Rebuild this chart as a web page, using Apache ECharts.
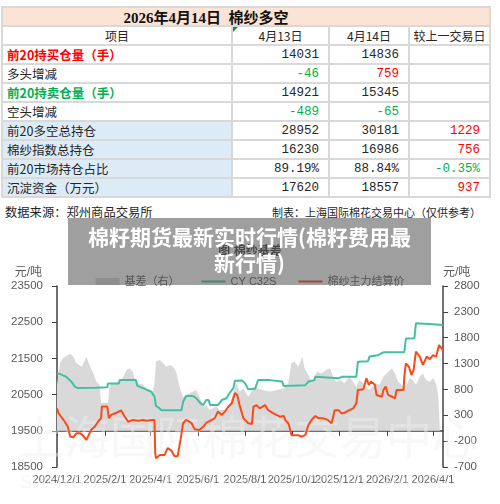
<!DOCTYPE html>
<html><head><meta charset="utf-8">
<script src="https://cdn.jsdelivr.net/npm/echarts@6/dist/echarts.min.js"></script>
<style>
html,body{margin:0;padding:0;background:#fff;}
#page{position:relative;width:500px;height:504px;overflow:hidden;background:#fff;font-family:'Noto Sans CJK SC','Liberation Sans',sans-serif;}
#tbl{position:absolute;left:1px;top:6px;display:grid;grid-template-columns:228px 95px 78px 79px;grid-auto-rows:17px;gap:2px;padding:2px;background:#d9d9d9;}
.c{background:#fff;display:flex;align-items:center;font-size:12.5px;color:#262626;white-space:nowrap;overflow:hidden;position:relative;}
.ttl{grid-column:1/5;background:#fbe4d5;justify-content:center;padding-right:80px;font-family:'Liberation Serif','Noto Sans CJK SC',serif;font-weight:bold;font-size:15px;color:#111;}
.hd{justify-content:center;font-size:12px;}
.lbl{padding-left:4px;}
.blue{background:#ddebf7;}
.num{justify-content:flex-end;padding-right:9px;font-family:'Liberation Mono',monospace;font-size:12.5px;}
.red{color:#ff0000;}
.green{color:#00b050;}
.b{font-weight:bold;}
.tri{position:absolute;left:0;top:0;width:0;height:0;border-top:5px solid #1e8c3a;border-right:5px solid transparent;}
#src{position:absolute;left:5px;top:203px;font-size:12.3px;color:#262626;}
#maker{position:absolute;right:19px;top:204px;font-size:11px;color:#262626;}
#chart{position:absolute;left:0;top:200px;width:500px;height:304px;}
#overlay{position:absolute;left:68px;top:218px;width:363px;height:67px;background:rgba(80,80,80,0.55);color:#fff;font-weight:bold;font-size:21px;line-height:26px;text-align:center;box-sizing:border-box;padding-top:5px;z-index:10;}
</style>
</head><body>
<div id="page">
  <div id="tbl"></div>
  <div id="src"></div>
  <div id="maker"></div>
  <div id="chart"></div>
  <div id="overlay"></div>
</div>
<script>
// ---------- table data ----------
const tableTitle = '2026年4月14日\u00a0\u00a0棉纱多空';
const colHeaders = ['项目', '4月13日', '4月14日', '较上一交易日'];
const rowLabels = ['前20持买仓量（手）', '多头增减', '前20持卖仓量（手）', '空头增减', '前20多空总持仓', '棉纱指数总持仓', '前20市场持仓占比', '沉淀资金（万元）'];
const apr13 = ['14031', '-46', '14921', '-489', '28952', '16230', '89.19%', '17620'];
const apr14 = ['14836', '759', '15345', '-65', '30181', '16986', '88.84%', '18557'];
const change = ['', '', '', '', '1229', '756', '-0.35%', '937'];
const sourceText = '数据来源：郑州商品交易所';
const makerText = '制表：上海国际棉花交易中心（仅供参考）';
const overlayLines = ['棉籽期货最新实时行情(棉籽费用最', '新行情)'];

// ---------- chart data ----------
const chartTitle = '图 棉纱基差';
const xTickDates = ['2024-12-01', '2025-02-01', '2025-04-01', '2025-06-01', '2025-08-01', '2025-10-01', '2025-12-01', '2026-02-01', '2026-04-01'];
const xMin = '2024-12-01';
const xMax = '2026-04-14';
const leftTicks = [18500, 19500, 20500, 21500, 22500, 23500];
const rightTicks = [-700, -200, 300, 800, 1300, 1800, 2300, 2800];

const cyDates = ['2024-12-01','2024-12-06','2024-12-13','2024-12-20','2024-12-24','2024-12-28','2025-01-20','2025-02-04','2025-02-05','2025-02-19','2025-02-20','2025-03-13','2025-03-15','2025-03-25','2025-04-02','2025-04-06','2025-04-08','2025-04-12','2025-04-15','2025-05-11','2025-05-13','2025-05-17','2025-05-26','2025-05-30','2025-06-04','2025-06-08','2025-06-12','2025-06-15','2025-06-17','2025-06-27','2025-07-02','2025-07-08','2025-07-12','2025-07-17','2025-07-19','2025-07-28','2025-08-01','2025-08-05','2025-08-14','2025-08-18','2025-09-02','2025-09-18','2025-09-20','2025-10-18','2025-10-22','2025-10-30','2025-10-31','2025-11-30','2025-12-02','2025-12-04','2025-12-23','2025-12-25','2026-01-07','2026-01-09','2026-01-20','2026-01-26','2026-01-28','2026-01-30','2026-02-23','2026-02-25','2026-03-08','2026-03-10','2026-03-12','2026-03-27','2026-04-14'];
const cyValues = [21090,21060,20990,20850,20720,20680,20690,20700,20810,20810,20900,20900,20740,20650,20580,20440,20190,20130,20070,20070,20300,20460,20460,20400,20270,20210,20350,20350,20210,20210,20350,20400,20540,20680,20880,20890,20820,20650,20660,20900,20900,20860,20740,20760,20860,20900,20990,20950,20920,20990,20990,21410,21420,21550,21590,21660,21620,21670,21670,22050,22060,22470,22490,22450,22420];

const yarnDates = ['2024-12-01','2024-12-02','2024-12-03','2024-12-07','2024-12-11','2024-12-15','2024-12-18','2024-12-22','2024-12-26','2024-12-31','2025-01-04','2025-01-08','2025-01-10','2025-01-14','2025-01-19','2025-01-23','2025-01-27','2025-01-28','2025-02-04','2025-02-06','2025-02-09','2025-02-16','2025-02-22','2025-02-26','2025-03-03','2025-03-09','2025-03-16','2025-03-22','2025-03-27','2025-04-02','2025-04-06','2025-04-07','2025-04-08','2025-04-13','2025-04-19','2025-04-23','2025-04-28','2025-05-02','2025-05-06','2025-05-10','2025-05-13','2025-05-17','2025-05-24','2025-05-28','2025-06-03','2025-06-08','2025-06-12','2025-06-19','2025-06-23','2025-06-27','2025-07-02','2025-07-06','2025-07-10','2025-07-15','2025-07-19','2025-07-22','2025-07-25','2025-07-30','2025-08-05','2025-08-10','2025-08-12','2025-08-16','2025-08-20','2025-08-27','2025-08-31','2025-09-07','2025-09-15','2025-09-20','2025-09-22','2025-09-26','2025-09-28','2025-09-30','2025-10-09','2025-10-13','2025-10-15','2025-10-18','2025-10-22','2025-10-26','2025-10-31','2025-11-04','2025-11-10','2025-11-16','2025-11-21','2025-11-25','2025-11-30','2025-12-04','2025-12-08','2025-12-14','2025-12-19','2025-12-23','2025-12-25','2026-01-01','2026-01-05','2026-01-08','2026-01-11','2026-01-16','2026-01-18','2026-01-25','2026-01-27','2026-01-30','2026-02-02','2026-02-07','2026-02-11','2026-02-13','2026-02-22','2026-02-23','2026-02-25','2026-03-01','2026-03-04','2026-03-07','2026-03-10','2026-03-15','2026-03-19','2026-03-24','2026-03-28','2026-04-01','2026-04-05','2026-04-09','2026-04-11','2026-04-14'];
const yarnValues = [20120,20170,19980,19870,19750,19610,19340,19320,19430,19430,19360,19250,19340,19520,19620,19750,19850,20170,20170,19850,19940,20000,20060,19910,19750,19800,19780,19800,19780,19800,19800,18880,18740,18830,18830,19020,18950,18800,18800,19290,19710,19800,19710,19540,19520,19610,19720,19800,19850,20030,19940,20030,20150,20260,20540,20490,20210,19850,19710,19690,20170,20210,20120,20210,20070,19980,19890,19910,19800,19710,19570,19380,19380,19340,19290,19380,19660,19800,19910,19850,19850,19800,19710,20070,20070,19980,20000,20070,20120,20260,20630,20650,20950,20770,20860,20770,20490,20440,20630,20720,20490,20440,20400,20630,20630,21000,21360,21270,21040,21180,21690,21550,21320,21550,21480,21590,21550,21870,21820,21730];

const basisDates = ['2024-12-01','2024-12-03','2024-12-05','2024-12-09','2024-12-18','2024-12-22','2024-12-26','2025-01-02','2025-01-08','2025-01-12','2025-01-17','2025-01-21','2025-01-25','2025-01-27','2025-02-05','2025-02-07','2025-02-11','2025-02-20','2025-02-24','2025-03-01','2025-03-05','2025-03-09','2025-03-11','2025-03-16','2025-03-22','2025-03-29','2025-04-04','2025-04-06','2025-04-08','2025-04-13','2025-04-17','2025-04-21','2025-04-26','2025-04-30','2025-05-04','2025-05-09','2025-05-13','2025-05-17','2025-05-22','2025-05-26','2025-05-30','2025-06-03','2025-06-08','2025-06-12','2025-06-16','2025-06-21','2025-06-25','2025-06-29','2025-07-10','2025-07-14','2025-07-21','2025-07-25','2025-07-30','2025-08-05','2025-08-08','2025-08-12','2025-08-18','2025-08-24','2025-09-02','2025-09-11','2025-09-20','2025-09-26','2025-09-30','2025-10-04','2025-10-09','2025-10-14','2025-10-17','2025-10-22','2025-10-26','2025-11-02','2025-11-08','2025-11-14','2025-11-19','2025-11-23','2025-11-27','2025-12-02','2025-12-08','2025-12-14','2025-12-23','2025-12-27','2026-01-01','2026-01-05','2026-01-09','2026-01-16','2026-01-22','2026-01-27','2026-01-31','2026-02-07','2026-02-11','2026-02-15','2026-02-22','2026-02-26','2026-03-02','2026-03-06','2026-03-10','2026-03-15','2026-03-19','2026-03-23','2026-03-28','2026-04-01','2026-04-05','2026-04-08','2026-04-10'];
const basisValues = [880,1100,1310,1410,1490,1430,1310,1240,1430,1270,1110,950,890,540,540,890,920,950,1020,1180,1210,1140,1020,920,890,790,760,920,1340,1370,1310,1240,1270,1240,1140,820,660,690,730,760,790,660,470,500,400,440,470,400,400,600,920,760,820,660,720,850,820,790,760,790,820,920,1310,1340,1240,1430,1210,1080,950,1140,1110,1180,1210,1050,950,980,920,1050,850,980,920,850,790,920,890,1050,1110,1210,1110,950,850,890,1020,980,890,1050,1110,980,950,1020,920,660,660];

// ---------- build table ----------
const tbl = document.getElementById('tbl');
function cell(text, cls) { const d = document.createElement('div'); d.className = 'c ' + cls; d.textContent = text; tbl.appendChild(d); return d; }
cell(tableTitle, 'ttl');
colHeaders.forEach((h, i) => { const d = cell(h, 'hd'); if (i === 1) { const t = document.createElement('span'); t.className = 'tri'; d.appendChild(t); } });
const signRows = [1, 3];
function signCls(v) { const n = parseFloat(v); if (isNaN(n)) return ''; return n < 0 ? ' green' : ' red'; }
rowLabels.forEach((lab, r) => {
  let lc = 'lbl';
  if (r === 0) lc += ' red b';
  if (r === 2) lc += ' green b';
  if (r >= 4) lc += ' blue';
  cell(lab, lc);
  const sc = signRows.includes(r);
  cell(apr13[r], 'num' + (sc ? signCls(apr13[r]) : ''));
  cell(apr14[r], 'num' + (sc ? signCls(apr14[r]) : ''));
  cell(change[r], 'num' + signCls(change[r]));
});
document.getElementById('src').textContent = sourceText;
document.getElementById('maker').textContent = makerText;
const ov = document.getElementById('overlay');
overlayLines.forEach((l, i) => { if (i) ov.appendChild(document.createElement('br')); ov.appendChild(document.createTextNode(l)); });

// ---------- chart ----------
function toTs(s) { const p = s.split('-').map(Number); return new Date(p[0], p[1] - 1, p[2]).getTime(); }
function pairs(ds, vs) { return ds.map((d, i) => [toTs(d), vs[i]]); }
const FONT = "'Liberation Sans','Noto Sans CJK SC',sans-serif";
const axisColor = '#404040';
const labelColor = '#595959';
const lineIcon = 'path://M0,0L24,0L24,2L0,2Z';
const plain = function (v) { return String(v); };
const chart = echarts.init(document.getElementById('chart'), null, { renderer: 'canvas' });
chart.setOption({
  animation: false,
  textStyle: { fontFamily: FONT },
  title: { text: chartTitle, left: 'center', top: 41, textStyle: { fontSize: 12, fontWeight: 'bold', color: '#404040', fontFamily: FONT } },
  legend: {
    top: 71, left: 'center', itemGap: 22, itemWidth: 24, itemHeight: 7,
    textStyle: { color: labelColor, fontSize: 11, fontFamily: FONT },
    data: [{ name: '基差（右）', icon: 'rect' }, { name: 'CY C32S', icon: lineIcon }, { name: '棉纱主力结算价', icon: lineIcon }]
  },
  grid: { left: 57, right: 57, top: 86, bottom: 37, containLabel: false, outerBoundsMode: 'none' },
  xAxis: {
    type: 'value', min: toTs(xMin), max: toTs(xMax),
    axisLine: { show: true, lineStyle: { color: axisColor, width: 1.5 } },
    axisTick: { show: true, customValues: xTickDates.map(toTs), length: 5, lineStyle: { color: axisColor } },
    axisLabel: {
      customValues: xTickDates.map(toTs), color: labelColor, fontSize: 11, margin: 7, hideOverlap: false,
      formatter: function (v) { const d = new Date(v); return d.getFullYear() + '/' + (d.getMonth() + 1) + '/' + d.getDate(); }
    },
    splitLine: { show: false }
  },
  yAxis: [
    {
      type: 'value', min: leftTicks[0], max: leftTicks[leftTicks.length - 1], position: 'left',
      name: '元/吨', nameLocation: 'end', nameGap: 13,
      nameTextStyle: { color: labelColor, fontSize: 12, align: 'right', verticalAlign: 'middle', padding: [0, 15, 0, 0] },
      axisLine: { show: true, lineStyle: { color: axisColor, width: 1.5 } },
      axisTick: { show: true, customValues: leftTicks, length: 5, lineStyle: { color: axisColor } },
      axisLabel: { customValues: leftTicks, color: labelColor, fontSize: 11.5, margin: 14, formatter: plain },
      splitLine: { show: false }
    },
    {
      type: 'value', min: rightTicks[0], max: rightTicks[rightTicks.length - 1], position: 'right',
      name: '元/吨', nameLocation: 'end', nameGap: 13,
      nameTextStyle: { color: labelColor, fontSize: 12, align: 'left', verticalAlign: 'middle' },
      axisLine: { show: true, lineStyle: { color: axisColor, width: 1.5 } },
      axisTick: { show: true, customValues: rightTicks, length: 5, lineStyle: { color: axisColor } },
      axisLabel: { customValues: rightTicks, color: labelColor, fontSize: 11.5, margin: 11, formatter: plain },
      splitLine: { show: false }
    }
  ],
  graphic: [
    { type: 'text', left: 18, top: 214, z: 2, silent: true, style: { text: '上海国际棉花交易中心', fontSize: 46, fill: 'rgba(240,240,240,0.45)', fontFamily: 'Noto Sans CJK SC' } },
    { type: 'text', left: 20, top: 274, z: 2, silent: true, style: { text: 'SHANGHAI INTERNATIONAL COTTON EXCHANGE', fontSize: 18, fill: 'rgba(240,240,240,0.5)', fontFamily: 'Liberation Sans' } }
  ],
  series: [
    { name: '基差（右）', type: 'line', yAxisIndex: 1, data: pairs(basisDates, basisValues), symbol: 'none', z: 1, silent: true,
      lineStyle: { width: 0, color: '#d9d9d9' }, itemStyle: { color: '#d9d9d9' }, areaStyle: { color: '#d9d9d9', opacity: 1 } },
    { name: 'CY C32S', type: 'line', yAxisIndex: 0, data: pairs(cyDates, cyValues), symbol: 'none', z: 3,
      lineStyle: { width: 2, color: '#43bfa3' }, itemStyle: { color: '#43bfa3' } },
    { name: '棉纱主力结算价', type: 'line', yAxisIndex: 0, data: pairs(yarnDates, yarnValues), symbol: 'none', z: 4,
      lineStyle: { width: 2, color: '#fa4a1a' }, itemStyle: { color: '#fa4a1a' } }
  ]
});
</script>
</body></html>
